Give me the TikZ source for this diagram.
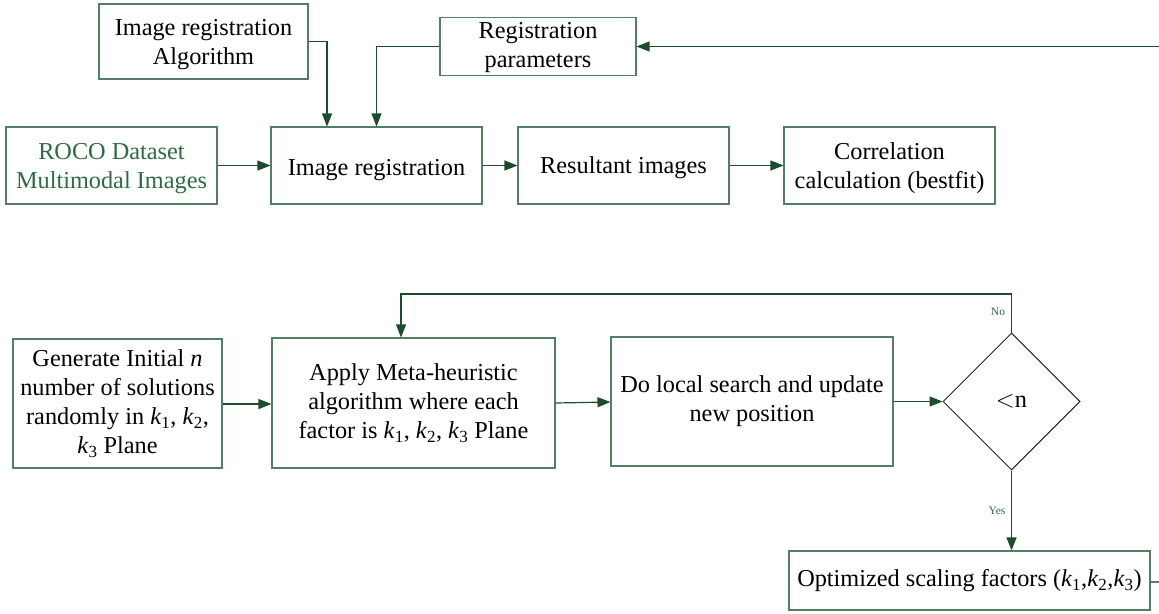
\documentclass[tikz,border=0pt]{standalone}
\usepackage{fontspec}
\setmainfont{Liberation Serif}
\usetikzlibrary{arrows.meta,shapes.geometric}
\definecolor{boxgreen}{HTML}{527F62}
\definecolor{arrgreen}{HTML}{1B4D2C}
\definecolor{txtgreen}{HTML}{2E6B40}
\newcommand{\kk}[1]{\textit{k}\textsubscript{#1}}
\newcommand{\lowertxt}[2]{\raisebox{-#1}[\height][\depth]{\begin{tabular}{@{}c@{}}#2\end{tabular}}}
\tikzset{
  box/.style={draw=boxgreen, line width=1.1pt, inner sep=0pt, align=center,
    font=\fontsize{24.3}{29}\selectfont},
  arr/.style={draw=arrgreen, line width=1.2pt, -{Triangle[length=13pt,width=10pt]}},
  plainline/.style={draw=boxgreen, line width=1.1pt},
  lbl/.style={text=txtgreen, font=\fontsize{11.5}{13}\selectfont, inner sep=0pt},
  dec/.style={draw=black!85, line width=1pt, diamond, shape aspect=1, inner sep=0pt,
    minimum width=137pt, minimum height=137pt, font=\fontsize{24.3}{29}\selectfont}
}
\begin{document}
\begin{tikzpicture}[x=1pt,y=-1pt]
\useasboundingbox[fill=white] (0,0) rectangle (1159,613);
% top part
\node[box, minimum width=209pt, minimum height=75pt] (A) at (203.5,41.5) {\lowertxt{3pt}{Image registration\\[0pt]Algorithm}};
\node[box, minimum width=196pt, minimum height=57pt] (B) at (538,46.5) {\lowertxt{1pt}{Registration\\[0pt]parameters}};
\node[box, minimum width=211pt, minimum height=77pt, text=txtgreen] (C) at (111.5,165.5) {\lowertxt{3pt}{ROCO Dataset\\[0pt]Multimodal Images}};
\node[box, minimum width=211pt, minimum height=77pt] (D) at (376.5,165.5) {\lowertxt{4pt}{Image registration}};
\node[box, minimum width=211pt, minimum height=77pt] (E) at (623.5,165.5) {\lowertxt{2pt}{Resultant images}};
\node[box, minimum width=211pt, minimum height=77pt] (F) at (889.5,165.5) {\lowertxt{3pt}{Correlation\\[0pt]calculation (bestfit)}};
\coordinate (topin) at (1159,46.5);
\draw[arr] (topin) -- (B.east);
\draw[arr] (A.east) -| ([xshift=-49.5pt]D.north);
\draw[arr] (B.west) -| (D.north);
\draw[arr] (C) -- (D);
\draw[arr] (D) -- (E);
\draw[arr] (E) -- (F);
% bottom part
\node[box, minimum width=209pt, minimum height=129pt] (G) at (117.5,403.5) {Generate Initial \textit{n}\\number of solutions\\randomly in \kk{1}, \kk{2},\\\kk{3} Plane};
\node[box, minimum width=283pt, minimum height=130pt] (H) at (413.5,403) {Apply Meta-heuristic\\algorithm where each\\factor is \kk{1}, \kk{2}, \kk{3} Plane};
\node[box, minimum width=282pt, minimum height=129pt] (I) at (752,401.5) {Do local search and update\\new position};
\node[dec] (J) at (1011.5,401.5) {$<$n};
\node[box, minimum width=361pt, minimum height=59pt] (K) at (969.5,580.5) {Optimized scaling factors (\kk{1},\kk{2},\kk{3})};
\draw[arr] (G.east |- 0,404) -- (H.west |- 0,404);
\draw[arr] (H.east |- 0,403) -- (I.west |- 0,402);
\draw[arr] (I.east |- 0,401.5) -- (J.west);
\coordinate (loopR) at (1011.5,294);
\coordinate (loopL) at (401,294);
\draw[arr] (J.north) -- (loopR) -- (loopL) -- (H.north -| loopL);
\draw[arr] (J.south) -- (K.north -| J.south);
\node[lbl] (no) at (998,312) {No};
\node[lbl] (yes) at (997,511) {Yes};
\coordinate (kout) at (1159,582);
\draw[plainline] (K.east |- kout) -- (kout);
\end{tikzpicture}
\end{document}
